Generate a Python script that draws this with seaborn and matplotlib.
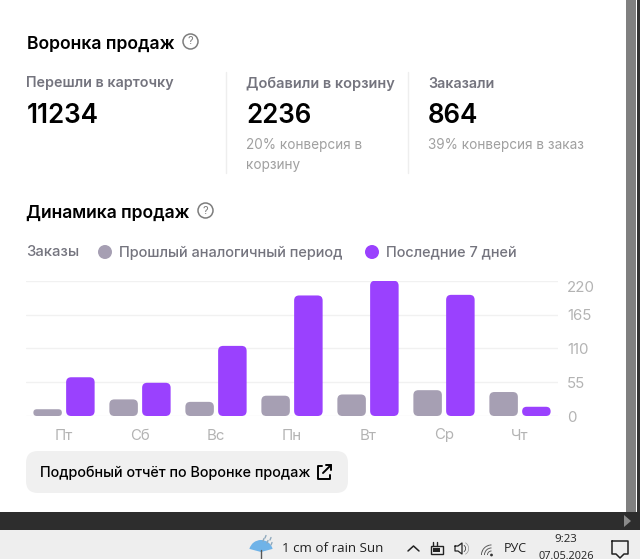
import pandas as pd
import matplotlib
matplotlib.use('Agg')
import matplotlib.pyplot as plt
import seaborn as sns
from matplotlib.patches import FancyBboxPatch, Circle, Rectangle, Polygon, Wedge

# Data
days = ['Пт', 'Сб', 'Вс', 'Пн', 'Вт', 'Ср', 'Чт']
prev_period = [11, 27, 23, 33, 35, 42, 39]
last_7_days = [63, 54, 114, 196, 220, 197, 15]
y_ticks = [0, 55, 110, 165, 220]
series_names = ['Прошлый аналогичный период', 'Последние 7 дней']

GRAY = '#a69fb3'
PURPLE = '#9a41fe'

sns.set_theme(style='white')
plt.rcParams['font.family'] = ['Inter', 'DejaVu Sans']

df = pd.DataFrame({
    'day': days * 2,
    'orders': prev_period + last_7_days,
    'series': [series_names[0]] * 7 + [series_names[1]] * 7,
})

fig = plt.figure(figsize=(6.4, 5.59), dpi=100, facecolor='white')

# Page layer in pixel coordinates
bg = fig.add_axes([0, 0, 1, 1])
bg.set_xlim(0, 640)
bg.set_ylim(559, 0)
bg.axis('off')


def px(size):
    return size * 0.72


def label(x, y, s, size=14, color='#000000', weight='normal', ha='left', **kw):
    bg.text(x, y, s, fontsize=px(size), color=color, fontweight=weight, ha=ha, va='center', **kw)


def help_icon(x, y):
    bg.add_patch(Circle((x, y), 7.5, fill=False, ec='#7d7d7d', lw=1.1))
    label(x, y, '?', size=11, color='#7d7d7d', ha='center')


# Funnel block
label(27, 44.5, 'Воронка продаж', size=17.6, weight='semibold')
help_icon(190.5, 41.5)

label(26.5, 83.5, 'Перешли в карточку', size=14.3, color='#74747e', weight='semibold')
label(246, 83.5, 'Добавили в корзину', size=14.5, color='#74747e', weight='semibold')
label(428, 83.5, 'Заказали', size=14.3, color='#74747e', weight='semibold')

label(26.5, 116, '11234', size=26, weight='semibold')
label(246.5, 116, '2236', size=26, weight='semibold')
label(428, 116, '864', size=26, weight='semibold')

label(246, 145.5, '20% конверсия в', size=13.6, color='#a0a0a0')
label(246, 164.5, 'корзину', size=13.6, color='#a0a0a0')
label(428, 145.5, '39% конверсия в заказ', size=13.6, color='#a0a0a0')

for x in [226, 408]:
    bg.plot([x, x], [72, 173], color='#eeeeee', lw=1)

# Chart header and legend
label(26.5, 213.5, 'Динамика продаж', size=17.5, weight='semibold')
help_icon(205.5, 210.5)
label(26.5, 252.5, 'Заказы', size=14.8, color='#74747e', weight='medium')
bg.add_patch(Circle((105, 252), 7, color=GRAY, lw=0))
label(119, 252.5, series_names[0], size=14.6, color='#74747e', weight='medium')
bg.add_patch(Circle((372, 252), 7, color=PURPLE, lw=0))
label(386, 252.5, series_names[1], size=14.5, color='#74747e', weight='medium')

# Bar chart
ax = fig.add_axes([26 / 640, (559 - 416) / 559, 532 / 640, 135.3 / 559])
ax.patch.set_alpha(0)
sns.barplot(data=df, x='day', y='orders', hue='series', order=days, hue_order=series_names,
            palette=[GRAY, PURPLE], saturation=1, width=0.862, gap=0.13, legend=False, ax=ax, zorder=3)
ax.set_xlim(-0.5, 6.5)
ax.set_ylim(0, 220)
ax.set_xlabel('')
ax.set_ylabel('')
ax.set_yticks(y_ticks)
ax.yaxis.tick_right()
ax.grid(axis='y', color='#f1f1f1', lw=1)
ax.set_axisbelow(True)
sns.despine(ax=ax, left=True, right=True, top=True, bottom=True)
ax.tick_params(axis='y', length=0, pad=6.5, labelsize=px(15), labelcolor='#b3b3b3')
ax.tick_params(axis='x', length=0, pad=9, labelsize=px(15), labelcolor='#b3b3b3')
ax.get_yticklabels()[-1].set_verticalalignment('top')

# Swap the square bars for rounded ones of the same size
x_per_px = 7 / 532
y_per_px = 220 / 135.3
for bar in list(ax.patches):
    x0, y0 = bar.get_x(), bar.get_y()
    w, h = bar.get_width(), bar.get_height()
    radius_px = min(5, h / y_per_px / 2)
    r = radius_px * x_per_px
    ry = radius_px * y_per_px
    rounded = FancyBboxPatch((x0 + r, y0 + ry), w - 2 * r, h - 2 * ry,
                             boxstyle=f'round,pad={r},rounding_size={r}',
                             mutation_aspect=y_per_px / x_per_px,
                             fc=bar.get_facecolor(), ec='none', zorder=3)
    ax.add_patch(rounded)
    bar.remove()

# Report button
bg.add_patch(FancyBboxPatch((38, 463), 298, 18, boxstyle='round,pad=12,rounding_size=12',
                            fc='#f0f0f0', ec='none'))
label(40, 472.5, 'Подробный отчёт по Воронке продаж', size=14.4, weight='medium')
bg.plot([322, 318, 318, 330, 330], [466, 466, 479, 479, 475], color='black', lw=1.4)
bg.plot([323, 331], [473, 465], color='black', lw=1.4)
bg.plot([326, 331, 331], [465, 465, 470], color='black', lw=1.4)

# Window scrollbar and dark strip
bg.add_patch(Rectangle((626, 0), 10, 512, color='#808080', lw=0))
bg.add_patch(Rectangle((637, 0), 3, 512, color='#333333', lw=0))
bg.add_patch(Rectangle((0, 512), 640, 18, color='#2d2d2d', lw=0))
bg.add_patch(Polygon([(624, 515), (631, 521), (624, 527)], color='#8a8a8a', lw=0))

# Windows taskbar
bg.add_patch(Rectangle((0, 530), 640, 29, color='#eeeeee', lw=0))
bg.add_patch(Wedge((261, 552), 12, 195, 345, color='#6fb3e8', lw=0))
bg.plot([261, 261], [550, 559], color='#555555', lw=1)
for x, y in [(263, 541), (267, 543), (270, 540), (265, 538), (271, 545)]:
    bg.plot([x, x + 1], [y, y - 2.5], color='#8fa9bd', lw=1)
tb = ['Open Sans', 'DejaVu Sans']
label(282, 549, '1 cm of rain Sun', size=13.4, color='#222222', family=tb)
bg.plot([408, 413.5, 419], [551, 546, 551], color='#222222', lw=1.1)
bg.add_patch(Rectangle((431, 546), 12, 7.5, fill=False, ec='#222222', lw=1))
bg.add_patch(Rectangle((433, 548), 7, 4, color='#222222', lw=0))
bg.plot([433, 433], [542, 546], color='#222222', lw=1)
bg.plot([437, 437], [542, 546], color='#222222', lw=1)
bg.plot([455, 458, 462, 462, 458, 455, 455], [546, 546, 543, 554, 551, 551, 546], color='#222222', lw=0.9)
bg.add_patch(Wedge((462, 548.5), 4, -60, 60, width=0.7, color='#222222', lw=0))
bg.add_patch(Wedge((462, 548.5), 7, -60, 60, width=0.7, color='#999999', lw=0))
bg.add_patch(Circle((491.5, 555), 1.4, color='#333333', lw=0))
for r in [4.5, 7.5, 10.5]:
    bg.add_patch(Wedge((491.5, 555), r, 180, 270, width=0.9, color='#555555', lw=0))
label(515, 548.5, 'РУС', size=12.5, color='#222222', ha='center', family=tb)
label(566, 539, '9:23', size=11.5, color='#222222', ha='center', family=tb)
label(566, 556.5, '07.05.2026', size=11, color='#222222', ha='center', family=tb)
bg.plot([612, 628, 628, 624, 620, 616, 612, 612], [541, 541, 554, 554, 558, 554, 554, 541], color='#222222', lw=1.1)

fig.savefig('out.png', dpi=100, facecolor='white')
